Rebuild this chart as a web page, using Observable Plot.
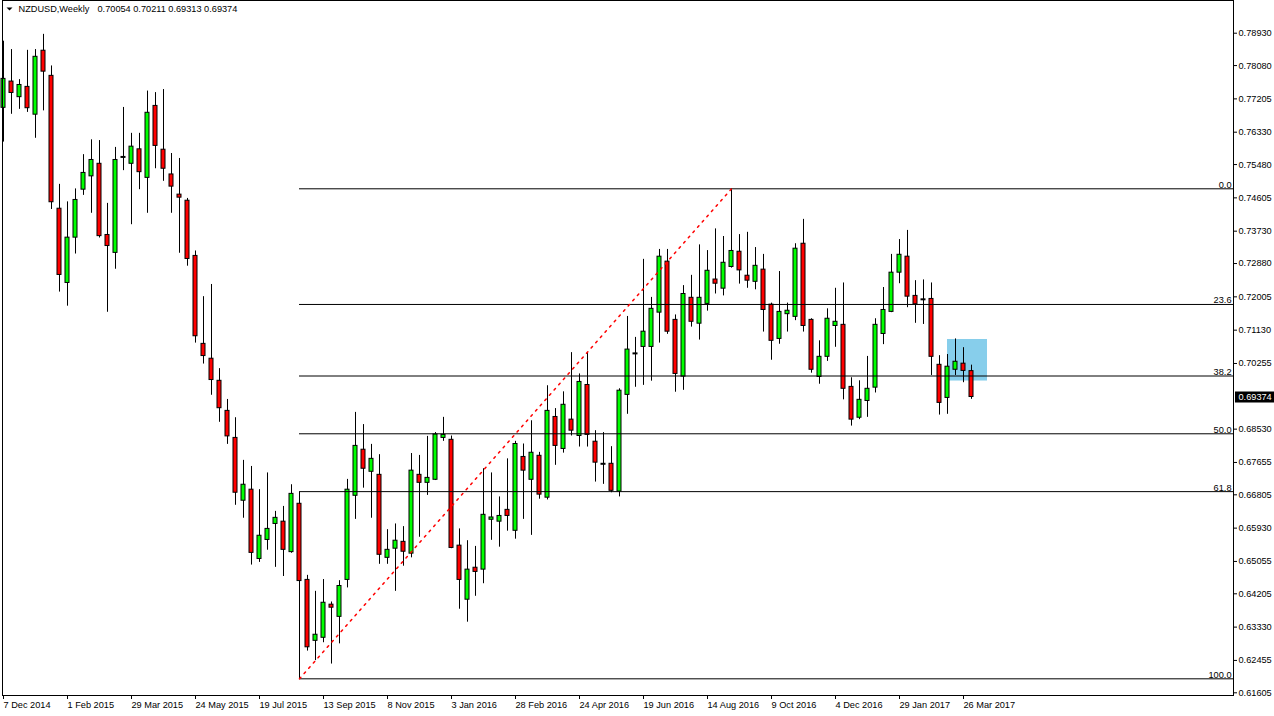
<!DOCTYPE html>
<html><head><meta charset="utf-8">
<script src="https://cdn.jsdelivr.net/npm/d3@7"></script>
<script src="https://cdn.jsdelivr.net/npm/@observablehq/plot@0.6"></script>
<style>html,body{margin:0;padding:0;background:#fff;overflow:hidden}svg{display:block}</style>
</head><body><div id="chart"></div>
<script>
// ---- data (weekly NZDUSD, first bar = week of 7 Dec 2014) ----
const firstWeek = "2014-12-07";
const opens = [0.7697,0.7766,0.7725,0.7752,0.7679,0.7847,0.7781,0.7432,0.7237,0.7356,
0.7482,0.7517,0.7550,0.7363,0.7316,0.7568,0.7550,0.7588,0.7513,0.7702,
0.7587,0.7522,0.7469,0.7453,0.7308,0.7077,0.7038,0.6980,0.6901,0.6830,
0.6665,0.6694,0.6512,0.6562,0.6604,0.6610,0.6530,0.6657,0.6457,0.6297,
0.6305,0.6392,0.6360,0.6457,0.6678,0.6799,0.6741,0.6733,0.6515,0.6539,
0.6557,0.6526,0.6733,0.6712,0.6720,0.6830,0.6825,0.6547,0.6405,0.6489,
0.6484,0.6615,0.6610,0.6641,0.6586,0.6780,0.6720,0.6783,0.6673,0.6885,
0.6801,0.6878,0.6835,0.6969,0.6820,0.6762,0.6762,0.6689,0.6943,0.7052,
0.7069,0.7069,0.7159,0.7293,0.7140,0.6991,0.7198,0.7130,0.7182,0.7246,
0.7222,0.7279,0.7319,0.7256,0.7240,0.7272,0.7180,0.7090,0.7155,0.7148,
0.7340,0.7140,0.6990,0.7043,0.7124,0.7127,0.6964,0.6883,0.6927,0.6962,
0.7103,0.7161,0.7264,0.7306,0.7203,0.7194,0.7195,0.7022,0.6935,0.7009,
0.7025,0.70054];
const highs = [0.7872,0.7850,0.7771,0.7848,0.7850,0.7890,0.7807,0.7496,0.7450,0.7484,
0.7574,0.7613,0.7611,0.7446,0.7593,0.7698,0.7630,0.7630,0.7741,0.7737,
0.7745,0.7577,0.7564,0.7459,0.7321,0.7201,0.7233,0.7012,0.6931,0.6883,
0.6771,0.6755,0.6694,0.6738,0.6637,0.6650,0.6707,0.6687,0.6469,0.6427,
0.6458,0.6399,0.6455,0.6721,0.6897,0.6865,0.6813,0.6786,0.6589,0.6604,
0.6597,0.6789,0.6784,0.6834,0.6844,0.6884,0.6835,0.6591,0.6560,0.6545,
0.6749,0.6738,0.6675,0.6775,0.6821,0.6814,0.6875,0.6792,0.6967,0.6907,
0.6951,0.7054,0.6998,0.7054,0.6849,0.6844,0.6807,0.6959,0.7149,0.7094,
0.7299,0.7199,0.7325,0.7325,0.7153,0.7230,0.7257,0.7337,0.7322,0.7379,
0.7359,0.74843,0.7364,0.7370,0.7330,0.7312,0.7184,0.7267,0.7184,0.7340,
0.7404,0.7143,0.7085,0.7169,0.7223,0.7237,0.6988,0.6980,0.7044,0.7143,
0.7225,0.7312,0.7351,0.7375,0.7243,0.7245,0.7237,0.7046,0.7049,0.7090,
0.7067,0.70211];
const lows = [0.7607,0.7680,0.7693,0.7685,0.7617,0.7689,0.7430,0.7213,0.7176,0.7313,
0.7467,0.7420,0.7355,0.7160,0.7273,0.7532,0.7390,0.7482,0.7420,0.7537,
0.7504,0.7420,0.7315,0.7281,0.7079,0.7024,0.6942,0.6871,0.6813,0.6653,
0.6619,0.6496,0.6503,0.6535,0.6490,0.6466,0.6527,0.61972,0.6270,0.6245,
0.6292,0.6236,0.6289,0.6436,0.6616,0.6698,0.6619,0.6498,0.6498,0.6427,
0.6493,0.6515,0.6569,0.6679,0.6718,0.6821,0.6539,0.6380,0.6346,0.6414,
0.6447,0.6561,0.6543,0.6585,0.6564,0.6616,0.6574,0.6669,0.6667,0.6758,
0.6790,0.6835,0.6806,0.6806,0.6714,0.6708,0.6686,0.6675,0.6892,0.6963,
0.6968,0.6979,0.7079,0.7102,0.6950,0.6955,0.7121,0.7087,0.7163,0.7208,
0.7203,0.7276,0.7234,0.7223,0.7219,0.7108,0.7034,0.7076,0.7108,0.7138,
0.7108,0.7000,0.6971,0.7031,0.7068,0.6930,0.6861,0.6878,0.6884,0.6948,
0.7075,0.7159,0.7235,0.7172,0.7131,0.7128,0.6994,0.6890,0.6892,0.6994,
0.6975,0.69313];
const closes = [0.7773,0.7736,0.7757,0.7696,0.7831,0.7792,0.7449,0.7258,0.7356,0.7455,
0.7526,0.7560,0.7360,0.7334,0.7560,0.7568,0.7595,0.7528,0.7684,0.7597,
0.7537,0.7490,0.7461,0.7300,0.7097,0.7045,0.6982,0.6908,0.6834,0.6686,
0.6707,0.6528,0.6573,0.6591,0.6620,0.6536,0.6683,0.6454,0.6280,0.6313,
0.6397,0.6384,0.6441,0.6694,0.6809,0.6749,0.6775,0.6523,0.6536,0.6560,
0.6531,0.6744,0.6712,0.6725,0.6839,0.6838,0.6541,0.6457,0.6484,0.6478,
0.6628,0.6621,0.6625,0.6625,0.6814,0.6744,0.6791,0.6681,0.6901,0.6809,
0.6917,0.6849,0.6977,0.6838,0.6765,0.6762,0.6691,0.6954,0.7062,0.7052,
0.7109,0.7169,0.7306,0.7109,0.6998,0.7208,0.7135,0.7198,0.7269,0.7235,
0.7290,0.7321,0.7270,0.7243,0.7282,0.7166,0.7085,0.7161,0.7164,0.7327,
0.7124,0.7009,0.7043,0.7143,0.7135,0.6959,0.6878,0.6930,0.6959,0.7127,
0.7166,0.7264,0.7311,0.7201,0.7181,0.7194,0.7043,0.6922,0.7017,0.7030,
0.7006,0.69374];

const xTickDates = ["2014-12-07","2015-02-01","2015-03-29","2015-05-24","2015-07-19","2015-09-13",
"2015-11-08","2016-01-03","2016-02-28","2016-04-24","2016-06-19","2016-08-14","2016-10-09",
"2016-12-04","2017-01-29","2017-03-26"];
const xTickLabels = ["7 Dec 2014","1 Feb 2015","29 Mar 2015","24 May 2015","19 Jul 2015","13 Sep 2015",
"8 Nov 2015","3 Jan 2016","28 Feb 2016","24 Apr 2016","19 Jun 2016","14 Aug 2016","9 Oct 2016",
"4 Dec 2016","29 Jan 2017","26 Mar 2017"];
const yTicks = [0.78930,0.78080,0.77205,0.76330,0.75480,0.74605,0.73730,0.72880,0.72005,0.71130,
0.70255,0.68530,0.67655,0.66805,0.65930,0.65055,0.64205,0.63330,0.62455,0.61605];

const fibLabels = ["0.0","23.6","38.2","50.0","61.8","100.0"];
const fibPrices = [0.74843,0.71805,0.69926,0.68408,0.66889,0.61972];
const fibStartDate = "2015-08-23";
const trendDates = ["2015-08-23","2016-09-04"];
const trendPrices = [0.61972,0.74843];
const boxDates = ["2017-03-12","2017-04-16"];
const boxPrices = [0.69794,0.70885];
const symbolTitle = "NZDUSD,Weekly";
const lastBar = [0.70054,0.70211,0.69313,0.69374];

// ---- build tables ----
const d0 = new Date(firstWeek);
const candles = opens.map((o, i) => ({
  date: d3.utcWeek.offset(d0, i), open: o, high: highs[i], low: lows[i], close: closes[i],
  color: closes[i] > o ? "#00ff00" : closes[i] < o ? "#ff0000" : "#000000"
}));
const dojis = candles.filter(d => d.open === d.close);
const WEEK = 7 * 864e5, PXW = 8;
const xStart = new Date(+d0 - WEEK * 1 / PXW);
const xEnd = new Date(+d0 + WEEK * 1230 / PXW);
const labelMap = new Map(xTickDates.map((d, i) => [+new Date(d), xTickLabels[i]]));
const fib = fibPrices.map((p, i) => ({price: p, label: fibLabels[i]}));
const trend = trendDates.map((d, i) => ({date: new Date(d), price: trendPrices[i]}));
const box = [{x1: new Date(boxDates[0]), x2: new Date(boxDates[1]), y1: boxPrices[0], y2: boxPrices[1]}];
const FONT = "'Liberation Sans', Arial, sans-serif";

const chart = Plot.plot({
  width: 1274, height: 716,
  marginLeft: 2, marginRight: 41, marginTop: 0, marginBottom: 21,
  style: {fontFamily: FONT, fontSize: "9.2px", background: "#fff", color: "#000"},
  x: {type: "utc", domain: [xStart, xEnd]},
  y: {domain: [0.61534, 0.79789]},
  color: {type: "identity"},
  marks: [
    Plot.rect(box, {x1: "x1", x2: "x2", y1: "y1", y2: "y2", fill: "#87ceeb"}),
    Plot.ruleX(candles, {x: "date", y1: "low", y2: "high", stroke: "#000"}),
    Plot.rect(candles.filter(d => d.open !== d.close), {x1: "date", x2: "date", y1: "open", y2: "close",
      insetLeft: -2, insetRight: -2, fill: "color", stroke: "#000", strokeWidth: 1}),
    Plot.ruleY(dojis, {y: "open", x1: "date", x2: "date", insetLeft: -2.5, insetRight: -2.5, stroke: "#000", strokeWidth: 2}),
    Plot.ruleY(fib, {y: "price", x1: new Date(fibStartDate), x2: xEnd, stroke: "#000"}),
    Plot.text(fib, {x: xEnd, y: "price", text: "label", textAnchor: "end", lineAnchor: "bottom", dx: -2, dy: -1, fill: "#000"}),
    Plot.line(trend, {x: "date", y: "price", stroke: "#ff0000", strokeDasharray: "2,5"}),
    Plot.axisX({ticks: xTickDates.map(d => new Date(d)), tickFormat: d => labelMap.get(+d),
      tickSize: 4, tickPadding: 2, textAnchor: "start", dx: 0}),
    Plot.axisY({anchor: "right", ticks: yTicks, tickFormat: d => d.toFixed(5), tickSize: 3, tickPadding: 2}),
    Plot.text([symbolTitle], {frameAnchor: "top-left", text: d => d, dx: 16, dy: 5, lineAnchor: "top", textAnchor: "start", fill: "#000"}),
    Plot.text([lastBar.map(v => v.toFixed(5)).join(" ")], {frameAnchor: "top-left", text: d => d, dx: 95, dy: 5, lineAnchor: "top", textAnchor: "start", fill: "#000"}),
    Plot.frame({stroke: "#000"})
  ]
});
document.getElementById("chart").appendChild(chart);

// current price marker on the price axis and the title triangle
const svg = d3.select(chart);
const yc = chart.scale("y").apply(lastBar[3]);
svg.append("rect").attr("x", 1235).attr("y", Math.round(yc) - 5.5).attr("width", 39).attr("height", 11).attr("fill", "#000");
svg.append("text").attr("x", 1238.5).attr("y", yc).attr("dy", "0.34em").attr("fill", "#fff")
  .attr("text-anchor", "start")
  .attr("font-size", "9.2px").attr("font-family", FONT).text(lastBar[3].toFixed(5));
svg.append("path").attr("d", "M6.5,7.5L12.5,7.5L9.5,10.5Z").attr("fill", "#000");
</script></body></html>
